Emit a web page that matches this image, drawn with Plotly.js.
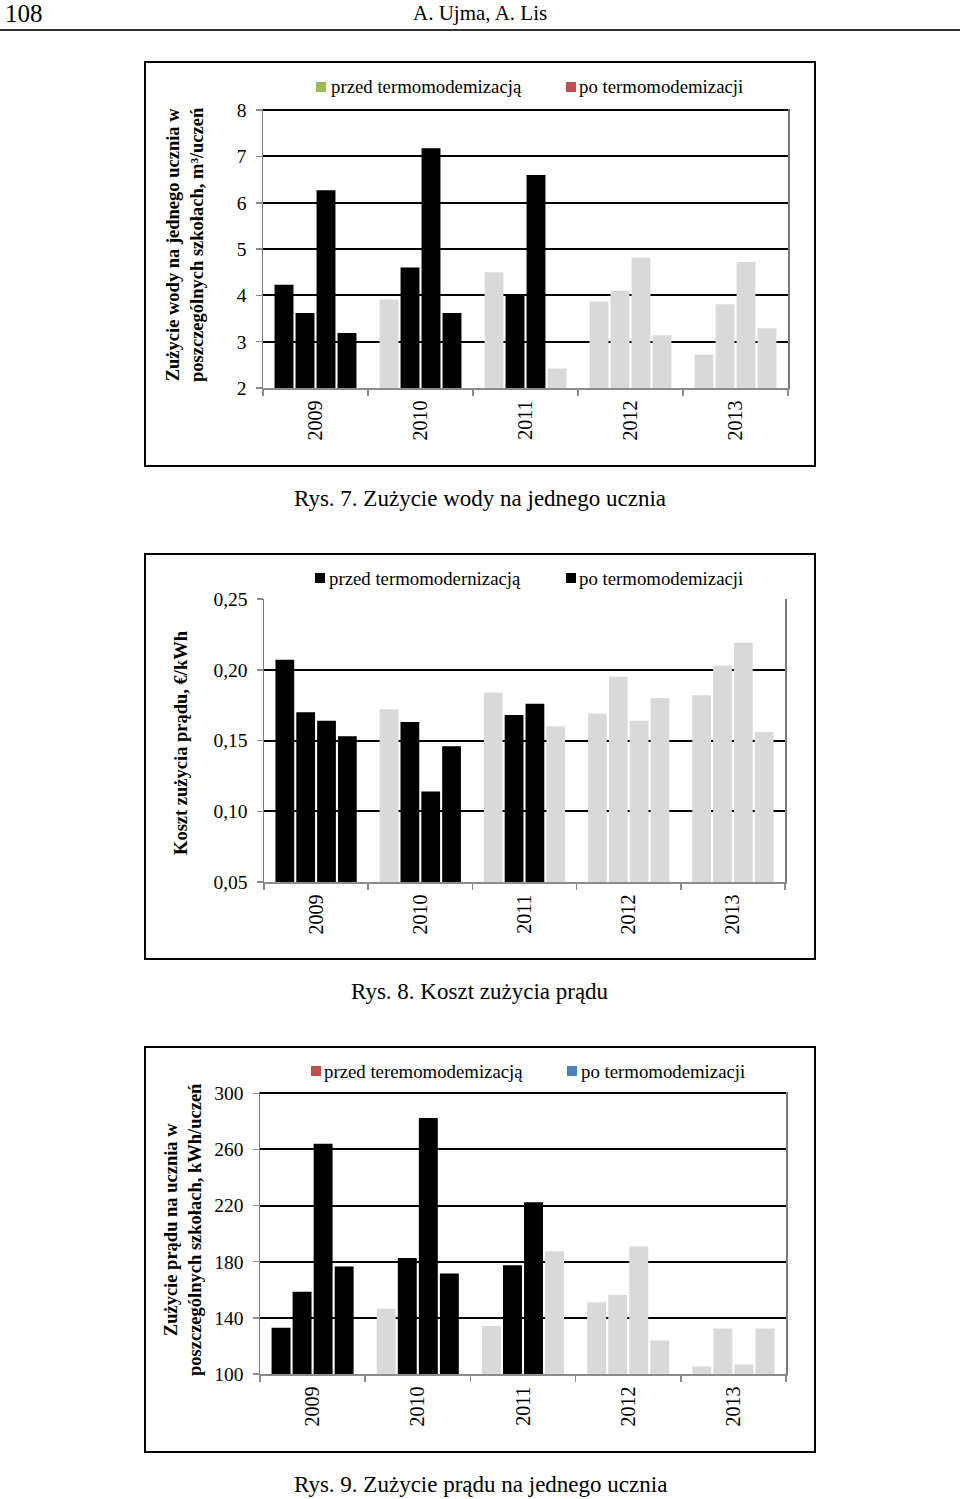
<!DOCTYPE html>
<html><head><meta charset="utf-8">
<script src="https://cdn.plot.ly/plotly-3.0.1.min.js"></script>
<style>html,body{margin:0;padding:0;background:#fff}#chart{width:960px;height:1499px}</style>
</head><body><div id="chart"></div>
<script>
// ---------- DATA ----------
const years = ['2009', '2010', '2011', '2012', '2013'];
const schools = ['Szkoła 1', 'Szkoła 2', 'Szkoła 3', 'Szkoła 4'];
// first year shown after thermomodernisation of each school (bars turn grey)
const modernizationYear = [2010, 2012, 2012, 2011];

// Rys. 7 – water use per pupil, m3/uczeń
const water_s1 = [4.23, 3.91, 4.50, 3.87, 2.72];
const water_s2 = [3.62, 4.60, 4.01, 4.10, 3.81];
const water_s3 = [6.27, 7.18, 6.60, 4.82, 4.72];
const water_s4 = [3.19, 3.62, 2.42, 3.14, 3.29];

// Rys. 8 – electricity cost, €/kWh
const cost_s1 = [0.207, 0.172, 0.184, 0.169, 0.182];
const cost_s2 = [0.170, 0.163, 0.168, 0.195, 0.203];
const cost_s3 = [0.164, 0.114, 0.176, 0.164, 0.219];
const cost_s4 = [0.153, 0.146, 0.160, 0.180, 0.156];

// Rys. 9 – electricity use per pupil, kWh/uczeń
const elec_s1 = [133.0, 146.5, 134.2, 151.2, 105.4];
const elec_s2 = [158.6, 182.6, 177.5, 156.2, 132.5];
const elec_s3 = [264.0, 282.3, 222.3, 190.9, 106.8];
const elec_s4 = [176.5, 171.6, 187.4, 123.8, 132.5];

// texts
const headerPage = '108';
const headerAuthors = 'A. Ujma, A. Lis';
const captions = ['Rys. 7. Zużycie wody na jednego ucznia', 'Rys. 8. Koszt zużycia prądu', 'Rys. 9. Zużycie prądu na jednego ucznia'];
const yTitles = ['<b>Zużycie wody na jednego ucznia w<br>poszczególnych szkołach, m³/uczeń</b>',
                 '<b>Koszt zużycia prądu, €/kWh</b>',
                 '<b>Zużycie prądu na ucznia w<br>poszczególnych szkołach, kWh/uczeń</b>'];
const legendTexts = [['przed termomodemizacją', 'po termomodemizacji'],
                     ['przed termomodernizacją', 'po termomodemizacji'],
                     ['przed teremomodemizacją', 'po termomodemizacji']];

// ---------- STYLE ----------
const W = 960, H = 1499;
const px = x => x / W, py = y => 1 - y / H;
const FONT = 'Liberation Serif, Times New Roman, serif';
const BEFORE = '#000000', AFTER = '#d9d9d9';
const legendColors = [['#9bbb59', '#c0504d'], ['#000000', '#000000'], ['#c0504d', '#4f81bd']];

const datasets = [
  [water_s1, water_s2, water_s3, water_s4],
  [cost_s1, cost_s2, cost_s3, cost_s4],
  [elec_s1, elec_s2, elec_s3, elec_s4]
];

const panels = [
  {xd: [263, 788], yd: [109, 388], range: [2, 8.025], dtick: 1, tick0: 0, fmt: '', frame: [145, 62, 815, 466],
   title: [185, 245], cap: 498, leg: 87, legX: [[316, 331], [566, 579]]},
  {xd: [264, 785], yd: [599, 882], range: [0.05, 0.25], dtick: 0.05, tick0: 0, fmt: '.2f', frame: [145, 554, 815, 959],
   title: [181, 743], cap: 991, leg: 578, legX: [[315, 329], [566, 579]]},
  {xd: [260, 786], yd: [1092, 1374], range: [100, 300.9], dtick: 40, tick0: 100, fmt: '', frame: [145, 1047, 815, 1452],
   title: [183, 1230], cap: 1484, leg: 1071, legX: [[311, 324], [567, 581]]}
];

const traces = [];
const layout = {
  width: W, height: H, margin: {l: 0, r: 0, t: 0, b: 0},
  paper_bgcolor: '#fff', plot_bgcolor: '#fff',
  font: {family: FONT, color: '#000', size: 16},
  separators: ', ',
  barmode: 'group', bargap: 0.2, bargroupgap: 0.1,
  showlegend: false,
  annotations: [], shapes: []
};

panels.forEach((p, k) => {
  const xa = k === 0 ? 'x' : 'x' + (k + 1);
  const ya = k === 0 ? 'y' : 'y' + (k + 1);
  datasets[k].forEach((vals, i) => {
    traces.push({
      type: 'bar', name: schools[i], x: years, y: vals,
      xaxis: xa, yaxis: ya,
      marker: {color: years.map(yr => (+yr < modernizationYear[i] ? BEFORE : AFTER)), line: {width: 0}},
      hoverinfo: 'x+y'
    });
  });
  layout['xaxis' + (k === 0 ? '' : k + 1)] = {
    domain: [px(p.xd[0]), px(p.xd[1])], anchor: ya, type: 'category',
    tickson: 'boundaries', ticks: 'outside', ticklen: 6, tickcolor: '#8c8c8c', tickwidth: 1.5,
    showline: true, linecolor: '#8c8c8c', linewidth: 1.5, showgrid: false, zeroline: false,
    tickangle: -90, ticklabelstandoff: 3, tickfont: {family: FONT, size: 20, color: '#000'}, fixedrange: true
  };
  layout['yaxis' + (k === 0 ? '' : k + 1)] = {
    domain: [py(p.yd[1]), py(p.yd[0])], anchor: xa, range: p.range, dtick: p.dtick, tick0: p.tick0,
    tickformat: p.fmt, ticks: 'outside', ticklen: 6, tickcolor: '#8c8c8c', tickwidth: 1.5,
    showline: true, linecolor: '#7a7a7a', linewidth: 1.5, mirror: true,
    showgrid: true, gridcolor: '#000', gridwidth: 2, zeroline: false, ticklabelstandoff: 5,
    tickfont: {family: FONT, size: 19.5, color: '#000'}, fixedrange: true
  };
  // frame
  layout.shapes.push({type: 'rect', xref: 'paper', yref: 'paper', x0: px(p.frame[0]), x1: px(p.frame[2]),
    y0: py(p.frame[3]), y1: py(p.frame[1]), line: {color: '#000', width: 2}});
  // y title
  layout.annotations.push({xref: 'paper', yref: 'paper', x: px(p.title[0]), y: py(p.title[1]),
    xanchor: 'center', yanchor: 'middle', textangle: -90, showarrow: false, text: yTitles[k],
    font: {family: FONT, size: 18.5, color: '#000'}});
  // caption
  layout.annotations.push({xref: 'paper', yref: 'paper', x: 0.5, y: py(p.cap), xanchor: 'center', yanchor: 'middle',
    showarrow: false, text: captions[k], font: {family: FONT, size: 23, color: '#000'}});
  // legend
  p.legX.forEach((lx, j) => {
    layout.shapes.push({type: 'rect', xref: 'paper', yref: 'paper', x0: px(lx[0]), x1: px(lx[0] + 10),
      y0: py(p.leg + 5), y1: py(p.leg - 5), line: {width: 0}, fillcolor: legendColors[k][j]});
    layout.annotations.push({xref: 'paper', yref: 'paper', x: px(lx[1] - 2), y: py(p.leg), xanchor: 'left', yanchor: 'middle',
      showarrow: false, text: legendTexts[k][j], font: {family: FONT, size: 18.8, color: '#000'}});
  });
});

// header
layout.annotations.push({xref: 'paper', yref: 'paper', x: px(3), y: py(13), xanchor: 'left', yanchor: 'middle',
  showarrow: false, text: headerPage, font: {family: FONT, size: 25, color: '#000'}});
layout.annotations.push({xref: 'paper', yref: 'paper', x: 0.5, y: py(13), xanchor: 'center', yanchor: 'middle',
  showarrow: false, text: headerAuthors, font: {family: FONT, size: 21, color: '#000'}});
layout.shapes.push({type: 'line', xref: 'paper', yref: 'paper', x0: 0, x1: 1, y0: py(30), y1: py(30),
  line: {color: '#333', width: 2}});

Plotly.newPlot('chart', traces, layout, {displayModeBar: false, staticPlot: true});
</script>
</body></html>
